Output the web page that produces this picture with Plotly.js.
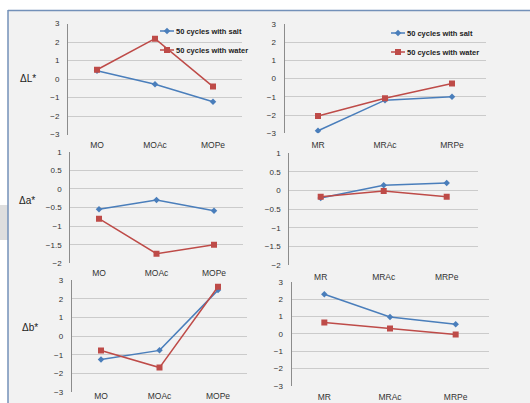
<!DOCTYPE html>
<html>
<head>
<meta charset="utf-8">
<script src="https://cdn.plot.ly/plotly-3.0.1.min.js"></script>
<style>
html,body{margin:0;padding:0;background:#ffffff;}
#chart{width:530px;height:403px;}
</style>
</head>
<body>
<div id="chart"></div>
<script>
// ---- data ----
var catsMO = ["MO", "MOAc", "MOPe"];
var catsMR = ["MR", "MRAc", "MRPe"];
var seriesNames = ["50 cycles with salt", "50 cycles with water"];

var dL_MO_salt  = [0.45, -0.28, -1.23];
var dL_MO_water = [0.50, 2.18, -0.41];
var dL_MR_salt  = [-2.86, -1.18, -0.99];
var dL_MR_water = [-2.05, -1.08, -0.27];

var da_MO_salt  = [-0.55, -0.30, -0.59];
var da_MO_water = [-0.80, -1.74, -1.50];
var da_MR_salt  = [-0.20, 0.14, 0.20];
var da_MR_water = [-0.17, -0.01, -0.17];

var db_MO_salt  = [-1.25, -0.76, 2.46];
var db_MO_water = [-0.77, -1.68, 2.64];
var db_MR_salt  = [2.28, 0.97, 0.54];
var db_MR_water = [0.64, 0.30, -0.04];

var rowTitles = ["\u0394L*", "\u0394a*", "\u0394b*"];

// ---- styling ----
var W = 530, H = 403;
var blue = "#4a7ebb", red = "#be4b48";
var FONT = "Liberation Sans, Arial, sans-serif";
function px(x){ return x / W; }
function py(y){ return 1 - y / H; }

function salt(x, y, xa, ya, leg){
  return {x: x, y: y, xaxis: xa, yaxis: ya, type: "scatter", mode: "lines+markers",
    name: seriesNames[0], line: {color: blue, width: 1.5},
    marker: {symbol: "diamond", size: 5, color: blue},
    showlegend: !!leg, legend: leg || "legend"};
}
function water(x, y, xa, ya, leg){
  return {x: x, y: y, xaxis: xa, yaxis: ya, type: "scatter", mode: "lines+markers",
    name: seriesNames[1], line: {color: red, width: 1.5},
    marker: {symbol: "square", size: 6, color: red},
    showlegend: !!leg, legend: leg || "legend"};
}

var traces = [
  salt(catsMO, dL_MO_salt, "x", "y", "legend"),
  water(catsMO, dL_MO_water, "x", "y", "legend"),
  salt(catsMR, dL_MR_salt, "x2", "y2", "legend2"),
  water(catsMR, dL_MR_water, "x2", "y2", "legend2"),
  salt(catsMO, da_MO_salt, "x3", "y3"),
  water(catsMO, da_MO_water, "x3", "y3"),
  salt(catsMR, da_MR_salt, "x4", "y4"),
  water(catsMR, da_MR_water, "x4", "y4"),
  salt(catsMO, db_MO_salt, "x5", "y5"),
  water(catsMO, db_MO_water, "x5", "y5"),
  salt(catsMR, db_MR_salt, "x6", "y6"),
  water(catsMR, db_MR_water, "x6", "y6")
];

function xax(x0, x1, anchor, standoff){
  return {domain: [px(x0), px(x1)], anchor: anchor, type: "category", range: [-0.5, 2.5],
    showgrid: false, zeroline: false, showline: false, ticks: "",
    ticklabelstandoff: standoff,
    tickfont: {family: FONT, size: 8.5, color: "#333333"}, fixedrange: true};
}
function yax(y0, y1, anchor, rng, dt){
  return {domain: [py(y1), py(y0)], anchor: anchor, range: rng, dtick: dt, tick0: 0,
    showgrid: true, gridcolor: "#cbcbcb", gridwidth: 1, zeroline: false,
    showline: true, linecolor: "#8c8c8c", linewidth: 1, ticks: "",
    ticklabelstandoff: 6,
    tickfont: {family: FONT, size: 8, color: "#333333"}, fixedrange: true};
}

var legendFont = {family: FONT, size: 7.5, color: "#222222", weight: "bold"};
var titleFont = {family: FONT, size: 10, color: "#222222"};

var layout = {
  width: W, height: H,
  margin: {l: 0, r: 0, t: 0, b: 0},
  paper_bgcolor: "#f2f2f2",
  plot_bgcolor: "rgba(0,0,0,0)",
  font: {family: FONT},
  xaxis:  xax(68, 242, "y", 4),
  yaxis:  yax(23.5, 134.5, "x", [-3, 3], 1),
  xaxis2: xax(284.5, 485.5, "y2", 5),
  yaxis2: yax(24, 133.3, "x2", [-3, 3], 1),
  xaxis3: xax(70.25, 242.75, "y3", 3),
  yaxis3: yax(151.7, 263.3, "x3", [-2, 1], 0.5),
  xaxis4: xax(289.2, 478.2, "y4", 5),
  yaxis4: yax(153.3, 265, "x4", [-2, 1], 0.5),
  xaxis5: xax(71.75, 247.25, "y5", -3),
  yaxis5: yax(280, 392.3, "x5", [-3, 3], 1),
  xaxis6: xax(291.5, 488.5, "y6", 5),
  yaxis6: yax(281.7, 385.7, "x6", [-3, 3], 1),
  legend:  {x: px(136), y: py(16.5), xanchor: "left", yanchor: "top", bgcolor: "rgba(0,0,0,0)",
            font: legendFont, borderwidth: 0},
  legend2: {x: px(367), y: py(18.5), xanchor: "left", yanchor: "top", bgcolor: "rgba(0,0,0,0)",
            font: legendFont, borderwidth: 0},
  annotations: [
    {text: rowTitles[0], xref: "paper", yref: "paper", x: px(28), y: py(79), xanchor: "center",
     yanchor: "middle", showarrow: false, font: titleFont},
    {text: rowTitles[1], xref: "paper", yref: "paper", x: px(27), y: py(201), xanchor: "center",
     yanchor: "middle", showarrow: false, font: titleFont},
    {text: rowTitles[2], xref: "paper", yref: "paper", x: px(30), y: py(327), xanchor: "center",
     yanchor: "middle", showarrow: false, font: titleFont}
  ],
  shapes: [
    {type: "rect", xref: "paper", yref: "paper", x0: 0, x1: 1, y0: py(10), y1: 1,
     fillcolor: "#ffffff", line: {width: 0}, layer: "below"},
    {type: "rect", xref: "paper", yref: "paper", x0: 0, x1: px(8), y0: 0, y1: 1,
     fillcolor: "#ffffff", line: {width: 0}, layer: "below"},
    {type: "rect", xref: "paper", yref: "paper", x0: 0, x1: px(8), y0: py(240), y1: py(205),
     fillcolor: "#dedede", line: {width: 0}, layer: "below"},
    {type: "line", xref: "paper", yref: "paper", x0: px(8), x1: 1, y0: py(10.5), y1: py(10.5),
     line: {color: "#7391b9", width: 1.5}},
    {type: "line", xref: "paper", yref: "paper", x0: px(8), x1: px(8), y0: 0, y1: py(10),
     line: {color: "#7391b9", width: 1.5}}
  ]
};

Plotly.newPlot("chart", traces, layout, {staticPlot: true, displayModeBar: false, responsive: false})
.then(function(gd){
  // shorten the legend symbols to the short Excel-style stub
  gd.querySelectorAll(".legendlines path").forEach(function(p){ p.setAttribute("d", "M24,0h14"); });
  gd.querySelectorAll(".legendpoints path").forEach(function(p){ p.setAttribute("transform", "translate(31,0)"); });
});
</script>
</body>
</html>
